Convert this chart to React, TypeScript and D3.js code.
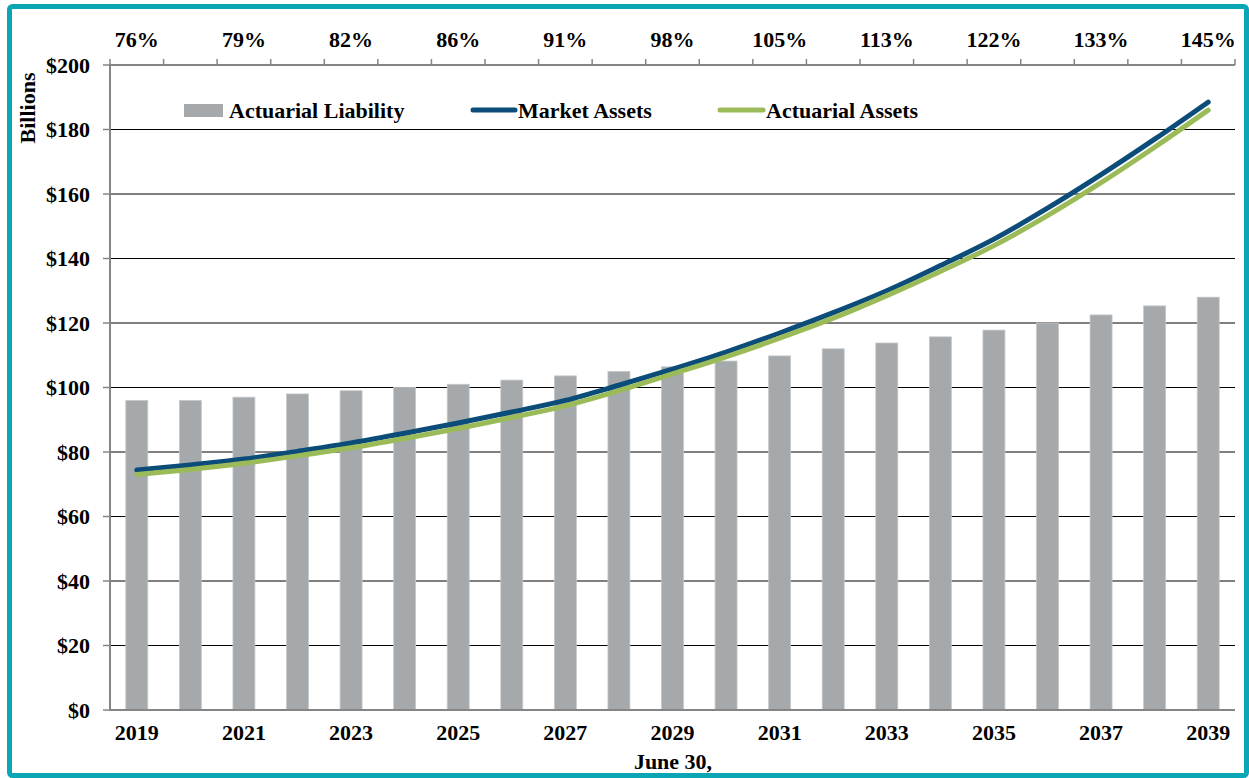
import { useMemo } from 'react';
import * as d3 from 'd3';

const years = [
  2019, 2020, 2021, 2022, 2023, 2024, 2025, 2026, 2027, 2028, 2029,
  2030, 2031, 2032, 2033, 2034, 2035, 2036, 2037, 2038, 2039
];
const liability = [
  96, 96, 97, 98, 99, 100, 101, 102.3, 103.6, 105, 106.4,
  108.2, 109.8, 112, 113.8, 115.7, 117.8, 120, 122.5, 125.3, 128
];
const marketAssets = [
  74.4, 76.0, 77.8, 80.2, 82.8, 85.8, 89.0, 92.4, 96.0, 100.7, 105.7,
  111.0, 116.9, 123.2, 130.0, 137.8, 146.0, 155.6, 166.0, 177.0, 188.5
];
const actuarialAssets = [
  73.0, 74.6, 76.5, 78.8, 81.3, 84.2, 87.3, 90.7, 94.3, 99.0, 104.2,
  109.5, 115.3, 121.5, 128.5, 136.0, 144.0, 153.3, 163.5, 174.5, 186.0
];
const fundedLabels = ['76%', '79%', '82%', '86%', '91%', '98%', '105%', '113%', '122%', '133%', '145%'];
const yTicks = [0, 20, 40, 60, 80, 100, 120, 140, 160, 180, 200];

const W = 1249;
const H = 778;
const FONT = '"Liberation Serif", "Times New Roman", serif';
const BAR = '#a6a9ac';
const BLUE = '#0b4d78';
const GREEN = '#9bbb59';

export default function App() {
  const margin = { left: 110, right: 14, top: 65, bottom: 68 };

  const x = useMemo(
    () =>
      d3
        .scaleBand<number>()
        .domain(years)
        .range([margin.left, W - margin.right])
        .paddingInner(0.59)
        .paddingOuter(0.295),
    []
  );
  const y = useMemo(() => d3.scaleLinear().domain([0, 200]).range([H - margin.bottom, margin.top]), []);

  const step = x.step();
  const x0 = margin.left;
  const x1 = W - margin.right;
  const center = (yr: number) => (x(yr) ?? 0) + x.bandwidth() / 2;

  const line = d3
    .line<number>()
    .x((_, i) => center(years[i]))
    .y((v) => y(v))
    .curve(d3.curveMonotoneX);

  const labelYears = years.filter((_, i) => i % 2 === 0);

  return (
    <svg
      width={W}
      height={H}
      style={{ position: 'absolute', left: 0, top: 0, background: '#fff' }}
      fontFamily={FONT}
      fontWeight="bold"
    >
      <rect x={9.5} y={6.5} width={W - 12} height={H - 9} fill="#fff" stroke="#0aa6b6" strokeWidth={5} rx={3} />

      {/* gridlines */}
      {yTicks
        .filter((t) => t > 0 && t < 200)
        .map((t) => (
          <line key={t} x1={x0} x2={x1} y1={y(t)} y2={y(t)} stroke="#000" strokeWidth={1} />
        ))}

      {/* bars */}
      {years.map((yr, i) => (
        <rect
          key={yr}
          x={x(yr)}
          y={y(liability[i])}
          width={x.bandwidth()}
          height={y(0) - y(liability[i])}
          fill={BAR}
          stroke="#c4c7c9"
          strokeWidth={0.8}
        />
      ))}

      {/* axes */}
      <line x1={x0} x2={x1} y1={y(0)} y2={y(0)} stroke="#858585" strokeWidth={2} />
      <line x1={x0} x2={x1} y1={y(200)} y2={y(200)} stroke="#858585" strokeWidth={2} />
      <line x1={x0} x2={x0} y1={y(200) - 1} y2={y(0) + 1} stroke="#858585" strokeWidth={2} />
      {d3.range(years.length + 1).map((k) => (
        <line
          key={k}
          x1={x0 + k * step}
          x2={x0 + k * step}
          y1={y(200)}
          y2={y(200) - 6}
          stroke="#858585"
          strokeWidth={1.5}
        />
      ))}
      {yTicks.map((t) => (
        <g key={t}>
          <line x1={x0 - 7} x2={x0} y1={y(t)} y2={y(t)} stroke="#858585" strokeWidth={1.5} />
          <text x={90} y={y(t)} dy="0.35em" textAnchor="end" fontSize={22}>
            ${t}
          </text>
        </g>
      ))}

      {/* category labels */}
      {labelYears.map((yr) => (
        <text key={yr} x={center(yr)} y={740} textAnchor="middle" fontSize={22}>
          {yr}
        </text>
      ))}
      {labelYears.map((yr, i) => (
        <text key={yr} x={center(yr)} y={47} textAnchor="middle" fontSize={22}>
          {fundedLabels[i]}
        </text>
      ))}

      {/* lines */}
      <path d={line(marketAssets) ?? ''} fill="none" stroke={BLUE} strokeWidth={5} strokeLinecap="round" />
      <path d={line(actuarialAssets) ?? ''} fill="none" stroke={GREEN} strokeWidth={5} strokeLinecap="round" />

      {/* legend */}
      <rect x={184} y={104} width={39} height={13} fill={BAR} />
      <text x={229} y={110} dy="0.35em" fontSize={22}>
        Actuarial Liability
      </text>
      <line x1={473} x2={515} y1={110} y2={110} stroke={BLUE} strokeWidth={5} strokeLinecap="round" />
      <text x={518} y={110} dy="0.35em" fontSize={22}>
        Market Assets
      </text>
      <line x1={720} x2={763} y1={110} y2={110} stroke={GREEN} strokeWidth={5} strokeLinecap="round" />
      <text x={766} y={110} dy="0.35em" fontSize={22}>
        Actuarial Assets
      </text>

      {/* axis titles */}
      <text transform="translate(35,108) rotate(-90)" textAnchor="middle" fontSize={22}>
        Billions
      </text>
      <text x={673} y={769} textAnchor="middle" fontSize={22}>
        June 30,
      </text>
    </svg>
  );
}
